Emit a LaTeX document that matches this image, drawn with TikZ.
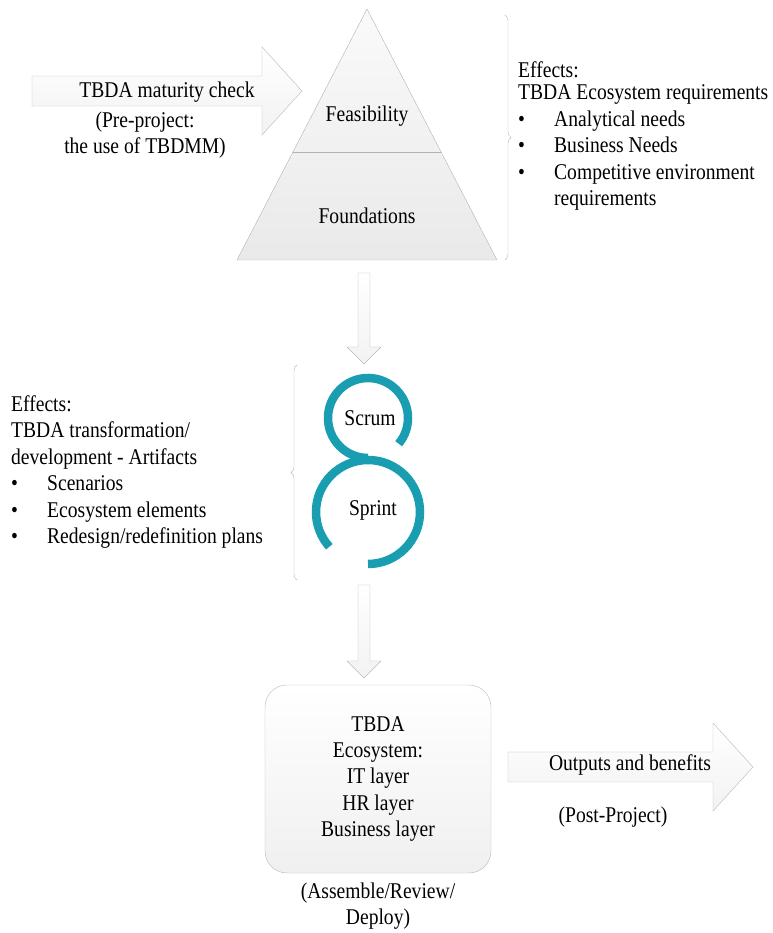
\documentclass[tikz,border=0pt]{standalone}
\usepackage{fontspec}
\setmainfont[FakeStretch=0.87]{Liberation Serif}
\usepackage{tikz}
\usetikzlibrary{positioning, calc, decorations.pathreplacing}

\definecolor{loopteal}{RGB}{24,158,176}

\begin{document}
\begin{tikzpicture}[
        x=1pt, y=1pt,
        font=\fontsize{22.5}{26.4}\selectfont,
        every node/.style={inner sep=0pt},
        pyr/.style={draw=gray!60, top color=gray!4, bottom color=gray!17},
        fatright/.style={draw=gray!55, top color=white, bottom color=gray!10,
            to path={let \p1=(\tikztostart), \p2=(\tikztotarget) in
                (\x1,\y1+15pt) -- (\x2-40pt,\y1+15pt) -- (\x2-40pt,\y1+44pt) -- (\x2,\y1)
                -- (\x2-40pt,\y1-44pt) -- (\x2-40pt,\y1-15pt) -- (\x1,\y1-15pt) -- cycle}},
        fatdown/.style={draw=gray!55, top color=white, bottom color=gray!10,
            to path={let \p1=(\tikztostart), \p2=(\tikztotarget) in
                (\x1-6pt,\y1) -- (\x1+6pt,\y1) -- (\x1+6pt,\y2+17pt) -- (\x1+17pt,\y2+17pt)
                -- (\x2,\y2) -- (\x1-17pt,\y2+17pt) -- (\x1-6pt,\y2+17pt) -- cycle}},
        brace/.style={draw=gray!55, decorate, decoration={brace, amplitude=6pt}},
        ring/.style={loopteal, line width=8.5pt},
        ecobox/.style={rectangle, rounded corners=22pt, draw=gray!55, top color=white, bottom color=gray!12,
            minimum width=226pt, minimum height=188pt, align=center}
    ]
        \useasboundingbox (0,0) rectangle (772,933);

        % Pyramid
        \coordinate (apex) at (367,924);
        \coordinate (bl) at (237,673);
        \coordinate (br) at (497,673);
        \draw[pyr] (apex) -- (br) -- (bl) -- cycle;
        \draw[gray!60] ($(apex)!0.57!(bl)$) -- ($(apex)!0.57!(br)$);
        \node (feas) at (367,817) {Feasibility};
        \node (found) at (367,717) {Foundations};

        % Pre-project arrow
        \coordinate (chk-tail) at (32,842);
        \coordinate (chk-tip) at (302,842);
        \draw[fatright] (chk-tail) to (chk-tip);
        \node (chk) at (167,841) {TBDA maturity check};
        \node (pre) [align=center] at (145,798) {(Pre-project:\\the use of TBDMM)};

        % Effects of the feasibility stage
        \draw[brace] (505,918) -- (505,673);
        \node (fx1) [anchor=west, align=left] at (518,797) {Effects:\\[-4pt]
            TBDA Ecosystem requirements\\
            \makebox[36pt][l]{\textbullet}Analytical needs\\
            \makebox[36pt][l]{\textbullet}Business Needs\\
            \makebox[36pt][l]{\textbullet}Competitive environment\\
            \hspace*{36pt}requirements};

        % Down to the loops
        \coordinate (d1a) at (364,660);
        \coordinate (d1b) at (364,569);
        \draw[fatdown] (d1a) to (d1b);

        % Scrum / Sprint loops
        \draw[ring] (368,421) ++(-90:52) arc[start angle=-90, end angle=222, radius=52];
        \draw[ring] (368,515) ++(-40:40) arc[start angle=-40, end angle=270, radius=40];
        \node (scrum) at (370,515) {Scrum};
        \node (sprint) at (373,423) {Sprint};

        % Effects of the development stage
        \draw[brace] (297,353) -- (297,568);
        \node (fx2) [anchor=west, align=left] at (11,461) {Effects:\\
            TBDA transformation/\\
            development - Artifacts\\
            \makebox[36pt][l]{\textbullet}Scenarios\\
            \makebox[36pt][l]{\textbullet}Ecosystem elements\\
            \makebox[36pt][l]{\textbullet}Redesign/redefinition plans};

        % Down to the ecosystem
        \coordinate (d2a) at (364,348);
        \coordinate (d2b) at (364,255);
        \draw[fatdown] (d2a) to (d2b);

        % Ecosystem box
        \node (eco) [ecobox] at (378,154) {TBDA\\Ecosystem:\\IT layer\\HR layer\\Business layer};
        \node (deploy) [align=center, below=9pt of eco] {(Assemble/Review/\\Deploy)};

        % Post-project arrow
        \coordinate (out-tail) at (508,166);
        \coordinate (out-tip) at (753,166);
        \draw[fatright] (out-tail) to (out-tip);
        \node (outputs) at (630,168) {Outputs and benefits};
        \node (post) at (613,116) {(Post-Project)};
    \end{tikzpicture}
\end{document}
